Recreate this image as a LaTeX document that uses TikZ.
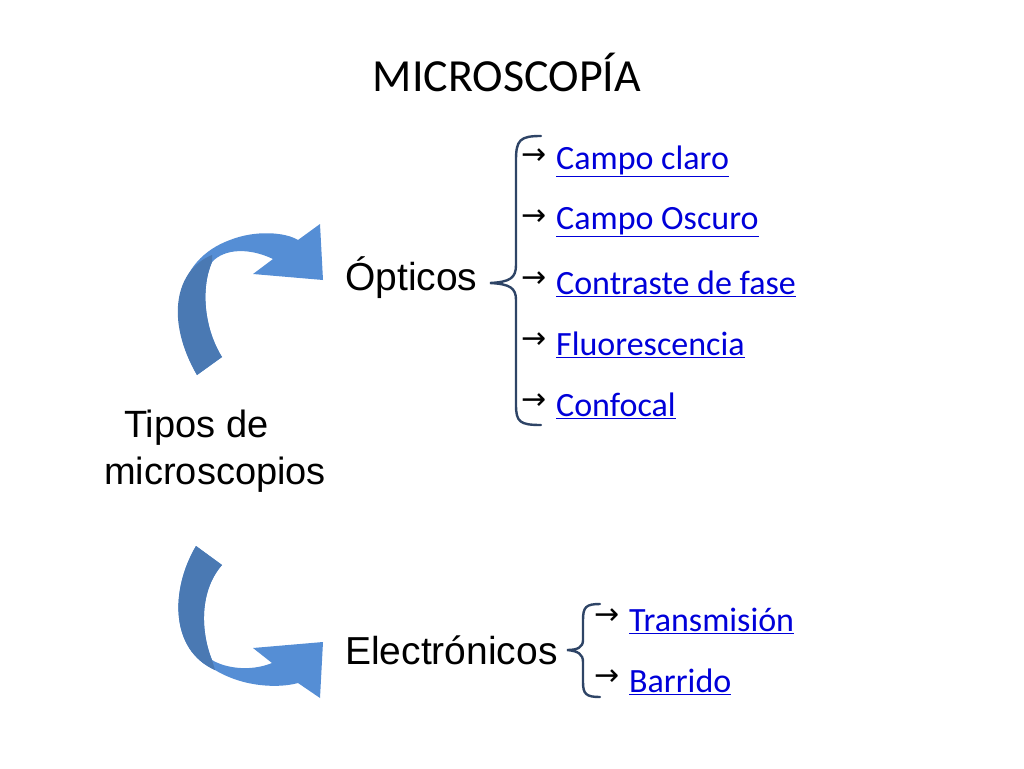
\documentclass[tikz,border=0pt]{standalone}
\usepackage{fontspec}
\setmainfont{Carlito}
\newfontfamily\arial{Liberation Sans}
\newfontfamily\dvs{DejaVu Sans}
\begin{document}
\begin{tikzpicture}[x=1pt,y=-1pt,
  lnk/.style={anchor=west,text=blue!85!black,font=\fontsize{34}{36}\selectfont,inner sep=0pt},
  hd/.style={anchor=west,font=\arial\fontsize{39}{42}\selectfont,inner sep=0pt},
  brace/.style={draw=brace1,line width=2.4pt,line cap=round}]
\useasboundingbox (0,0) rectangle (1024,768);
\definecolor{arrL}{HTML}{558ED5}
\definecolor{arrD}{HTML}{4A79B3}
\definecolor{brace1}{HTML}{2E4466}
\node (title) at (507,72) {\fontsize{46}{48}\selectfont MICROSCOPÍA};
% upper arrow
\fill[arrL] (197,375) .. controls (165,320) and (175,260) .. (230,240) .. controls (255,230) and (285,232) .. (298,240) -- (320,224) -- (323,280) -- (253,274) -- (273,259) .. controls (250,248) and (225,248) .. (212,262) .. controls (200,290) and (205,330) .. (222,357) -- cycle;
\fill[arrD] (197,375) .. controls (165,320) and (175,270) .. (212,255) -- (212,262) .. controls (200,290) and (205,330) .. (222,357) -- cycle;
% lower arrow
\fill[arrL] (196,546) .. controls (170,590) and (170,650) .. (215,670) .. controls (245,688) and (280,688) .. (298,683) -- (320,698) -- (323,642) -- (253,648) -- (272,663) .. controls (250,672) and (225,668) .. (212,660) .. controls (200,630) and (200,590) .. (222,565) -- cycle;
\fill[arrD] (196,546) .. controls (170,590) and (170,650) .. (215,670) -- (212,660) .. controls (200,630) and (200,590) .. (222,565) -- cycle;
\node[font=\arial\fontsize{38}{47}\selectfont,align=left,inner sep=0pt] (tipos) at (215,451) {\hspace*{20pt}Tipos de\\microscopios};
\node[hd] (opt) at (345,278) {Ópticos};
\node[hd] (ele) at (345,650) {Electrónicos};
\draw[brace] (541,136) .. controls (520,136) and (516,140) .. (516,160) -- (516,265) .. controls (516,278) and (510,282) .. (490,283) .. controls (510,284) and (516,288) .. (516,300) -- (516,405) .. controls (516,422) and (520,425) .. (541,425);
\draw[brace] (600,604) .. controls (586,604) and (583,607) .. (583,620) -- (583,640) .. controls (583,647) and (578,650) .. (567,650) .. controls (578,651) and (583,654) .. (583,662) -- (583,682) .. controls (583,694) and (586,697) .. (600,697);
\foreach \t/\y/\n in {Campo claro/161/a,Campo Oscuro/222/b,Contraste de fase/284/c,Fluorescencia/345/d,Confocal/406/e}{
  \node[anchor=west,inner sep=0pt,font=\dvs\fontsize{30}{32}\selectfont] (ar\n) at (521,\y-4) {→};
  \node[lnk] (t\n) at (556,\y) {\underline{\t}};
}
\foreach \t/\y/\n in {Transmisión/621/f,Barrido/682/g}{
  \node[anchor=west,inner sep=0pt,font=\dvs\fontsize{30}{32}\selectfont] (ar\n) at (594,\y-4) {→};
  \node[lnk] (t\n) at (629,\y) {\underline{\t}};
}
\end{tikzpicture}
\end{document}
